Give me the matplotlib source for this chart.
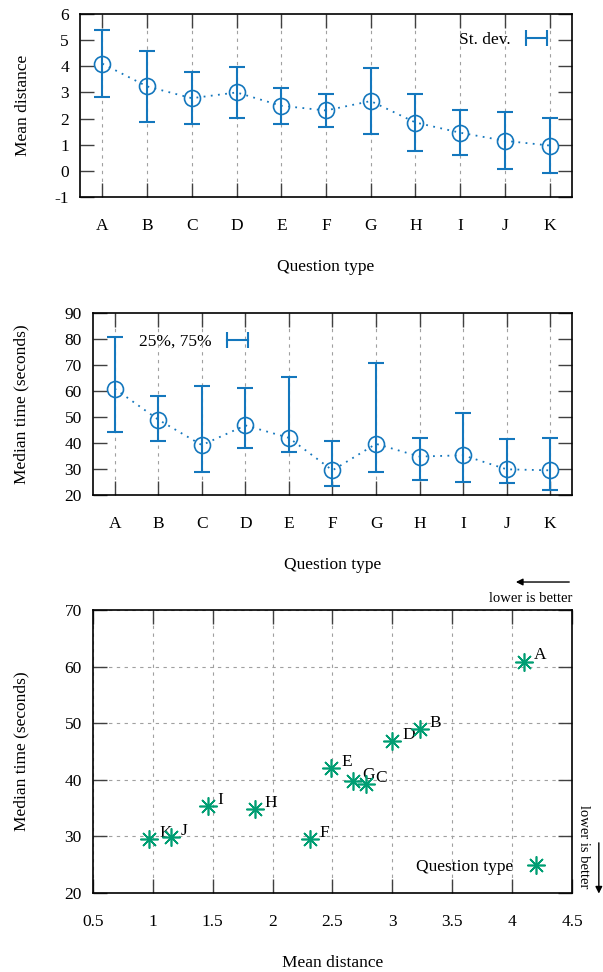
import matplotlib
matplotlib.use('Agg')
import matplotlib.pyplot as plt
from matplotlib.lines import Line2D

plt.rcParams['font.family'] = ['Liberation Serif', 'DejaVu Serif']
plt.rcParams['font.size'] = 12.5
plt.rcParams['axes.unicode_minus'] = False

# data
types = ['A', 'B', 'C', 'D', 'E', 'F', 'G', 'H', 'I', 'J', 'K']
mean_dist = [4.10, 3.23, 2.78, 3.00, 2.49, 2.31, 2.67, 1.85, 1.46, 1.15, 0.97]
std_dist = [1.28, 1.36, 0.99, 0.96, 0.68, 0.62, 1.26, 1.10, 0.86, 1.09, 1.05]
median_time = [60.9, 49.0, 39.2, 46.8, 42.0, 29.5, 39.7, 34.8, 35.3, 29.9, 29.5]
q25_time = [44.2, 40.6, 28.9, 38.0, 36.5, 23.3, 28.9, 25.7, 25.0, 24.6, 22.1]
q75_time = [80.7, 58.1, 62.0, 61.1, 65.3, 40.7, 70.7, 41.9, 51.4, 41.6, 42.0]

blue = '#1477bd'
green = '#009e73'
grid_kw = dict(color='#a0a0a0', linestyle=(0, (3, 4)), linewidth=0.8)


def style_axes(ax):
    ax.tick_params(direction='in', top=True, right=True, length=10, width=1,
                   color='#404040')
    ax.tick_params(axis='x', pad=15)
    ax.tick_params(axis='y', pad=8)
    for s in ax.spines.values():
        s.set_linewidth(1.2)


fig = plt.figure(figsize=(6.03, 9.72), dpi=100)
ax1 = fig.add_axes([0.1327, 0.7973, 0.8159, 0.1883])
ax2 = fig.add_axes([0.1542, 0.4907, 0.7944, 0.1872])
ax3 = fig.add_axes([0.1542, 0.0813, 0.7944, 0.2911])

x = list(range(len(types)))

# panel 1: mean distance with std dev
ax1.errorbar(x, mean_dist, yerr=std_dist, fmt='none', ecolor=blue,
             elinewidth=1.5, capsize=6, capthick=1.5, zorder=3)
ax1.plot(x, mean_dist, color=blue, linestyle=(0, (1, 3)), linewidth=1.3,
         marker='o', markersize=11.5, markerfacecolor='none',
         markeredgewidth=1.2, zorder=4)
ax1.set_xlim(-0.5, 10.5)
ax1.set_ylim(-1, 6)
ax1.set_xticks(x)
ax1.set_xticklabels(types)
ax1.set_yticks(range(-1, 7))
ax1.grid(axis='x', **grid_kw)
style_axes(ax1)
ax1.set_xlabel('Question type', va='center')
ax1.xaxis.set_label_coords(0.5, -0.383)
ax1.set_ylabel('Mean distance', va='center')
ax1.yaxis.set_label_coords(-0.115, 0.5)
h1 = Line2D([], [], color=blue, linewidth=1.5, marker='|', markersize=11,
            markeredgewidth=1.5)
ax1.legend([h1], ['St. dev.'], loc='center right', bbox_to_anchor=(0.96, 0.858),
           numpoints=2, markerfirst=False, frameon=False, handlelength=1.8,
           handletextpad=0.6, borderpad=0, borderaxespad=0)

# panel 2: median time with quartiles
lower = [m - q for m, q in zip(median_time, q25_time)]
upper = [q - m for m, q in zip(median_time, q75_time)]
ax2.errorbar(x, median_time, yerr=[lower, upper], fmt='none', ecolor=blue,
             elinewidth=1.5, capsize=6, capthick=1.5, zorder=3)
ax2.plot(x, median_time, color=blue, linestyle=(0, (1, 3)), linewidth=1.3,
         marker='o', markersize=11.5, markerfacecolor='none',
         markeredgewidth=1.2, zorder=4)
ax2.set_xlim(-0.5, 10.5)
ax2.set_ylim(20, 90)
ax2.set_xticks(x)
ax2.set_xticklabels(types)
ax2.set_yticks(range(20, 91, 10))
ax2.grid(axis='x', **grid_kw)
style_axes(ax2)
ax2.set_xlabel('Question type', va='center')
ax2.xaxis.set_label_coords(0.5, -0.385)
ax2.set_ylabel('Median time (seconds)', va='center')
ax2.yaxis.set_label_coords(-0.15, 0.5)
ax2.legend([h1], ['25%, 75%'], loc='center right', bbox_to_anchor=(0.335, 0.841),
           numpoints=2, markerfirst=False, frameon=False, handlelength=1.8,
           handletextpad=0.6, borderpad=0, borderaxespad=0)

# panel 3: scatter of distance vs time
ax3.plot(mean_dist, median_time, linestyle='none', marker=(8, 2, 0),
         markersize=13, markeredgewidth=1.2, color=green, zorder=4,
         label='Question type')
for t, mx, my in zip(types, mean_dist, median_time):
    ax3.annotate(t, (mx, my), xytext=(7, 4.5), textcoords='offset points',
                 ha='left', va='center')
ax3.set_xlim(0.5, 4.5)
ax3.set_ylim(20, 70)
ax3.set_xticks([0.5, 1, 1.5, 2, 2.5, 3, 3.5, 4, 4.5])
ax3.set_xticklabels(['0.5', '1', '1.5', '2', '2.5', '3', '3.5', '4', '4.5'])
ax3.set_yticks(range(20, 71, 10))
ax3.grid(**grid_kw)
style_axes(ax3)
ax3.set_xlabel('Mean distance', va='center')
ax3.xaxis.set_label_coords(0.5, -0.247)
ax3.set_ylabel('Median time (seconds)', va='center')
ax3.yaxis.set_label_coords(-0.15, 0.5)
ax3.legend(loc='center right', bbox_to_anchor=(0.95, 0.092), numpoints=1,
           markerfirst=False, frameon=False, handlelength=1.4,
           handletextpad=0.6, borderpad=0, borderaxespad=0)

arrow_kw = dict(arrowstyle='-|>', color='black', lw=1, mutation_scale=10)
ax3.annotate('', xy=(0.877, 1.099), xytext=(1.0, 1.099), xycoords='axes fraction',
             arrowprops=arrow_kw, annotation_clip=False)
ax3.text(1.0, 1.042, 'lower is better', transform=ax3.transAxes, ha='right',
         va='center', fontsize=10.5)
ax3.text(1.023, 0.311, 'lower is better', transform=ax3.transAxes, ha='center',
         va='top', rotation=-90, fontsize=10.5)
ax3.annotate('', xy=(1.056, -0.012), xytext=(1.056, 0.187),
             xycoords='axes fraction', arrowprops=arrow_kw, annotation_clip=False)

fig.savefig('out.png', dpi=100)
